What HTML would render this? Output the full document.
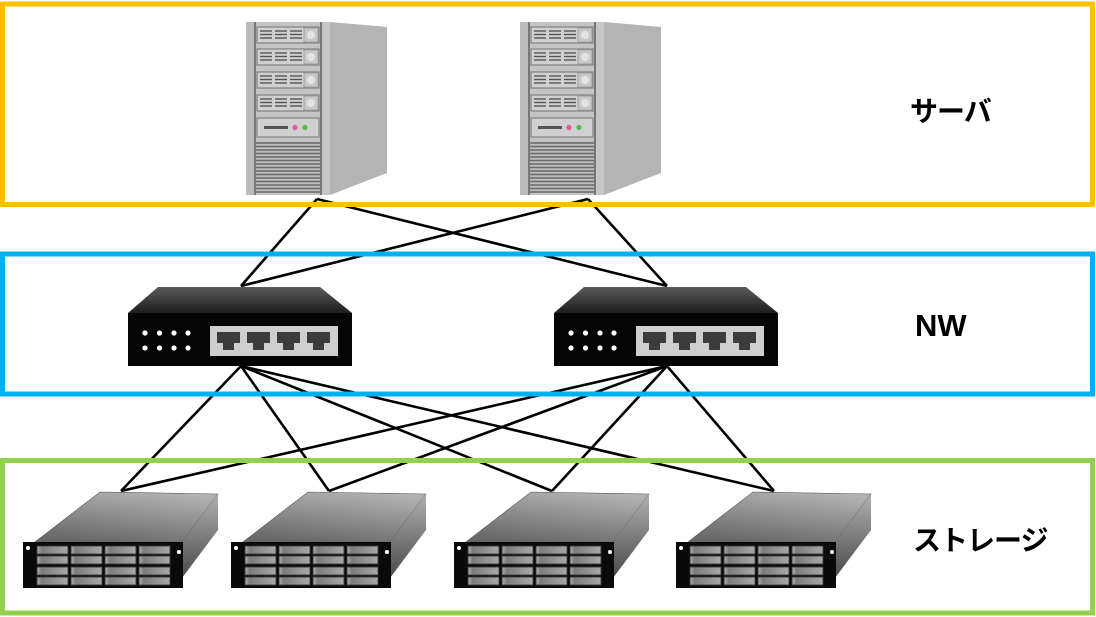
<!DOCTYPE html>
<html><head><meta charset="utf-8">
<style>
html,body{margin:0;padding:0;background:#fff;}
svg{display:block;}
.jp{font-family:"Liberation Sans","Noto Sans CJK JP",sans-serif;font-weight:bold;}
</style></head>
<body>
<svg width="1096" height="617" viewBox="0 0 1096 617" xmlns="http://www.w3.org/2000/svg">
<defs>
  <linearGradient id="swTop" x1="0" y1="0" x2="0" y2="1">
    <stop offset="0" stop-color="#5c5c5c"/><stop offset="1" stop-color="#1c1c1c"/>
  </linearGradient>
  <linearGradient id="stTop" x1="0.7" y1="0" x2="0.3" y2="1">
    <stop offset="0" stop-color="#b2b2b2"/><stop offset="1" stop-color="#686868"/>
  </linearGradient>
  <linearGradient id="stSide" x1="0" y1="0" x2="0" y2="1">
    <stop offset="0" stop-color="#b0b0b0"/><stop offset="1" stop-color="#4a4a4a"/>
  </linearGradient>
  <linearGradient id="slot" x1="0" y1="0" x2="1" y2="0">
    <stop offset="0" stop-color="#b0b0b0"/><stop offset="0.15" stop-color="#7c7c7c"/><stop offset="1" stop-color="#a8a8a8"/>
  </linearGradient>

  <g id="bay">
    <rect x="257" y="0" width="62" height="16" fill="#d0d0d0" stroke="#808080" stroke-width="1.2"/>
    <g stroke="#555" stroke-width="1.4">
      <line x1="260" y1="4" x2="272" y2="4"/><line x1="260" y1="7.5" x2="272" y2="7.5"/><line x1="260" y1="11" x2="272" y2="11"/>
      <line x1="275" y1="4" x2="287" y2="4"/><line x1="275" y1="7.5" x2="287" y2="7.5"/><line x1="275" y1="11" x2="287" y2="11"/>
      <line x1="290" y1="4" x2="302" y2="4"/><line x1="290" y1="7.5" x2="302" y2="7.5"/><line x1="290" y1="11" x2="302" y2="11"/>
    </g>
    <rect x="304" y="1" width="14" height="14" fill="#c8c8c8" stroke="#999" stroke-width="0.8"/>
    <circle cx="311" cy="8" r="4" fill="#e4e4e4"/>
  </g>

  <g id="srv">
    <polygon points="330,22 387,27 387,173 330,195" fill="#b4b4b4"/>
    <rect x="246" y="22" width="84" height="173" fill="#c4c4c4"/>
    <rect x="246" y="22" width="9" height="173" fill="#bbbbbb"/>
    <rect x="254" y="22" width="2" height="173" fill="#777"/>
    <rect x="320" y="22" width="2" height="173" fill="#777"/>
    <rect x="322" y="22" width="8" height="173" fill="#c6c6c6"/>
    <use href="#bay" transform="translate(0,27)"/>
    <use href="#bay" transform="translate(0,49)"/>
    <use href="#bay" transform="translate(0,72)"/>
    <use href="#bay" transform="translate(0,95)"/>
    <rect x="257" y="118" width="62" height="19" fill="#d0d0d0" stroke="#808080" stroke-width="1.2"/>
    <rect x="264" y="126" width="24" height="3" fill="#555"/>
    <circle cx="295" cy="127.5" r="2.6" fill="#e2559b"/>
    <circle cx="305" cy="127.5" r="2.6" fill="#55b848"/>
    <rect x="256" y="141" width="64" height="52" fill="#bdbdbd"/>
    <g stroke="#6a6a6a" stroke-width="1.4">
      <line x1="256" y1="143" x2="320" y2="143"/><line x1="256" y1="146.5" x2="320" y2="146.5"/>
      <line x1="256" y1="150" x2="320" y2="150"/><line x1="256" y1="153.5" x2="320" y2="153.5"/>
      <line x1="256" y1="157" x2="320" y2="157"/><line x1="256" y1="160.5" x2="320" y2="160.5"/>
      <line x1="256" y1="164" x2="320" y2="164"/><line x1="256" y1="167.5" x2="320" y2="167.5"/>
      <line x1="256" y1="171" x2="320" y2="171"/><line x1="256" y1="174.5" x2="320" y2="174.5"/>
      <line x1="256" y1="178" x2="320" y2="178"/><line x1="256" y1="181.5" x2="320" y2="181.5"/>
      <line x1="256" y1="185" x2="320" y2="185"/><line x1="256" y1="188.5" x2="320" y2="188.5"/>
      <line x1="256" y1="192" x2="320" y2="192"/>
    </g>
  </g>

  <g id="port">
    <path d="M0 332 H23 V343 H17 V350 H6 V343 H0 Z" fill="#3c3c3c"/>
  </g>
  <g id="sw">
    <polygon points="158,287 320,287 352,313 128,313" fill="url(#swTop)"/>
    <rect x="128" y="313" width="224" height="53" fill="#050505"/>
    <g fill="#fff">
      <circle cx="145" cy="333" r="2.6"/><circle cx="159.5" cy="333" r="2.6"/><circle cx="174" cy="333" r="2.6"/><circle cx="188" cy="333" r="2.6"/>
      <circle cx="145" cy="348" r="2.6"/><circle cx="159.5" cy="348" r="2.6"/><circle cx="174" cy="348" r="2.6"/><circle cx="188" cy="348" r="2.6"/>
    </g>
    <rect x="210" y="326" width="128" height="30" fill="#cfcfcf"/>
    <use href="#port" transform="translate(217,0)"/>
    <use href="#port" transform="translate(247,0)"/>
    <use href="#port" transform="translate(277,0)"/>
    <use href="#port" transform="translate(307,0)"/>
  </g>

  <g id="slotrow">
    <rect x="37" y="0" width="31" height="8" fill="url(#slot)" stroke="#3a3a3a" stroke-width="0.9"/>
    <rect x="71" y="0" width="31" height="8" fill="url(#slot)" stroke="#3a3a3a" stroke-width="0.9"/>
    <rect x="105" y="0" width="31" height="8" fill="url(#slot)" stroke="#3a3a3a" stroke-width="0.9"/>
    <rect x="139" y="0" width="31" height="8" fill="url(#slot)" stroke="#3a3a3a" stroke-width="0.9"/>
  </g>
  <g id="st">
    <polygon points="100,492 218,494 182,542 35,542" fill="url(#stTop)" stroke="#555" stroke-width="0.6"/>
    <polygon points="182,542 218,494 218,530 182,578" fill="url(#stSide)"/>
    <rect x="23" y="542" width="160" height="46" fill="#0a0a0a"/>
    <circle cx="28" cy="548" r="2" fill="#fff"/>
    <circle cx="179" cy="552" r="2" fill="#fff"/>
    <use href="#slotrow" transform="translate(0,546)"/>
    <use href="#slotrow" transform="translate(0,556)"/>
    <use href="#slotrow" transform="translate(0,567)"/>
    <use href="#slotrow" transform="translate(0,577)"/>
  </g>
</defs>

<!-- connectors -->
<g stroke="#000" stroke-width="2.6" fill="none">
  <line x1="317" y1="199" x2="241" y2="286"/>
  <line x1="317" y1="199" x2="667" y2="286"/>
  <line x1="588" y1="199" x2="241" y2="286"/>
  <line x1="588" y1="199" x2="667" y2="286"/>
  <line x1="241" y1="366" x2="121" y2="491"/>
  <line x1="241" y1="366" x2="329" y2="491"/>
  <line x1="241" y1="366" x2="552" y2="491"/>
  <line x1="241" y1="366" x2="774" y2="491"/>
  <line x1="667" y1="366" x2="121" y2="491"/>
  <line x1="667" y1="366" x2="329" y2="491"/>
  <line x1="667" y1="366" x2="552" y2="491"/>
  <line x1="667" y1="366" x2="774" y2="491"/>
</g>

<!-- devices -->
<use href="#srv"/>
<use href="#srv" transform="translate(274,0)"/>
<use href="#sw"/>
<use href="#sw" transform="translate(426,0)"/>
<use href="#st"/>
<use href="#st" transform="translate(208,0)"/>
<use href="#st" transform="translate(431,0)"/>
<use href="#st" transform="translate(653,0)"/>

<!-- group boxes -->
<rect x="2.5" y="4" width="1090" height="200.5" fill="none" stroke="#FFC000" stroke-width="5"/>
<rect x="2.5" y="254" width="1090" height="140" fill="none" stroke="#00B0F0" stroke-width="5"/>
<rect x="2.5" y="460.5" width="1090" height="152.5" fill="none" stroke="#92D050" stroke-width="5"/>

<!-- labels -->
<text x="910" y="121" class="jp" font-size="28" letter-spacing="-1" fill="#000">サーバ</text>
<text x="915" y="336" font-family="Liberation Sans, sans-serif" font-weight="bold" font-size="31" fill="#000">NW</text>
<text x="913" y="550" class="jp" font-size="28" letter-spacing="-1" fill="#000">ストレージ</text>
</svg>
</body></html>
